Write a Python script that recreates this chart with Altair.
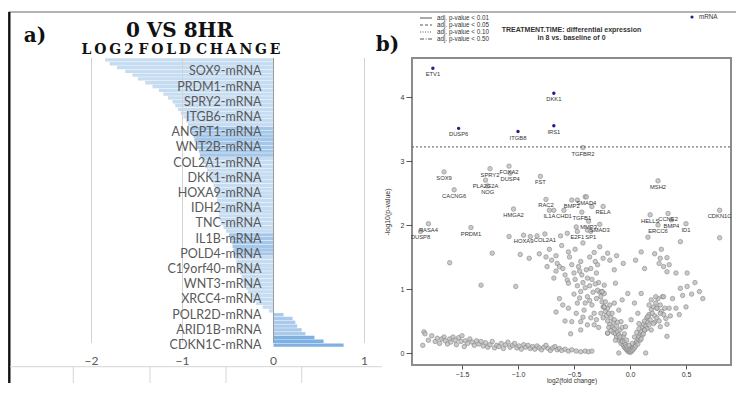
import altair as alt
import pandas as pd

# ---------------- Panel a) data ----------------
bar_values = [-1.85, -1.80, -1.72, -1.63, -1.55, -1.49, -1.41, -1.33, -1.26, -1.21,
              -1.16, -1.11, -1.08, -1.05, -1.02, -0.99, -0.96, -0.94, -0.92, -0.90,
              -0.88, -0.87, -0.85, -0.84, -0.82, -0.81, -0.79, -0.77, -0.75, -0.73,
              -0.71, -0.70, -0.68, -0.66, -0.64, -0.63, -0.62, -0.62, -0.61, -0.61,
              -0.60, -0.60, -0.59, -0.58, -0.55, -0.52, -0.49, -0.47, -0.46, -0.45,
              -0.44, -0.44, -0.42, -0.41, -0.40, -0.39, -0.37, -0.35, -0.34, -0.33,
              -0.30, -0.28, -0.25, -0.23, -0.19, -0.12, -0.05, 0.11, 0.21, 0.24,
              0.26, 0.31, 0.35, 0.45, 0.55, 0.77]
bar_labels = ["SOX9-mRNA", "PRDM1-mRNA", "SPRY2-mRNA", "ITGB6-mRNA", "ANGPT1-mRNA",
              "WNT2B-mRNA", "COL2A1-mRNA", "DKK1-mRNA", "HOXA9-mRNA", "IDH2-mRNA",
              "TNC-mRNA", "IL1B-mRNA", "POLD4-mRNA", "C19orf40-mRNA", "WNT3-mRNA",
              "XRCC4-mRNA", "POLR2D-mRNA", "ARID1B-mRNA", "CDKN1C-mRNA"]
x_ticks_a = [-2, -1, 0, 1]

# ---------------- Panel b) data ----------------
sig_genes = ["ETV1", "DKK1", "DUSP6", "ITGB8", "IRS1"]
sig_lfc = [-1.76, -0.68, -1.53, -1.00, -0.68]
sig_logp = [4.45, 4.06, 3.51, 3.46, 3.55]

lab_genes = ["TGFBR2", "SOX9", "SPRY2", "FOXA2", "DUSP4", "FST", "PLA2G2A", "NOG",
             "CACNG6", "MSH2", "RAC2", "BMP2", "SMAD4", "RELA", "HMGA2", "IL1A",
             "CHD1", "TGFB1", "MMP3", "SMAD3", "HELLS", "CCNE2", "BMP4", "ERCC6",
             "ID1", "CDKN1C", "RASA4", "DUSP8", "PRDM1", "COL2A1", "HOXA9", "E2F1", "SP1"]
lab_lfc = [-0.42, -1.66, -1.25, -1.08, -1.07, -0.80, -1.29, -1.27,
           -1.57, 0.25, -0.75, -0.52, -0.39, -0.24, -1.04, -0.72,
           -0.59, -0.43, -0.37, -0.27, 0.18, 0.34, 0.37, 0.25,
           0.50, 0.80, -1.80, -1.87, -1.42, -0.76, -0.95, -0.47, -0.35]
lab_logp = [3.21, 2.83, 2.88, 2.92, 2.81, 2.76, 2.70, 2.61,
            2.55, 2.69, 2.40, 2.39, 2.44, 2.29, 2.25, 2.23,
            2.23, 2.20, 2.06, 2.01, 2.16, 2.18, 2.08, 2.00,
            2.02, 2.23, 2.02, 1.90, 1.96, 1.86, 1.84, 1.90, 1.90]

bg_points = [
    # long low tail on the left
    (-1.84, 0.33), (-1.83, 0.30), (-1.85, 0.12), (-1.80, 0.20), (-1.77, 0.27), (-1.74, 0.18),
    (-1.72, 0.23), (-1.70, 0.15), (-1.68, 0.22), (-1.66, 0.25), (-1.65, 0.19), (-1.63, 0.14),
    (-1.61, 0.22), (-1.60, 0.17), (-1.58, 0.25), (-1.56, 0.20), (-1.55, 0.13), (-1.53, 0.24),
    (-1.51, 0.18), (-1.50, 0.27), (-1.48, 0.10), (-1.47, 0.19), (-1.45, 0.15), (-1.43, 0.22),
    (-1.41, 0.17), (-1.39, 0.12), (-1.37, 0.19), (-1.35, 0.14), (-1.33, 0.18), (-1.31, 0.11),
    (-1.29, 0.16), (-1.27, 0.09), (-1.25, 0.13), (-1.23, 0.18), (-1.21, 0.08), (-1.19, 0.12),
    (-1.17, 0.10), (-1.15, 0.15), (-1.13, 0.07), (-1.11, 0.13), (-1.09, 0.17), (-1.07, 0.09),
    (-1.05, 0.12), (-1.03, 0.15), (-1.01, 0.08), (-0.99, 0.11), (-0.97, 0.06), (-0.95, 0.13),
    (-0.93, 0.09), (-0.91, 0.12), (-0.89, 0.07), (-0.87, 0.10), (-0.85, 0.06), (-0.83, 0.11),
    (-0.81, 0.08), (-0.79, 0.05), (-0.77, 0.09), (-0.75, 0.12), (-0.73, 0.07), (-0.71, 0.04),
    (-0.69, 0.08), (-0.67, 0.10), (-0.65, 0.05), (-0.63, 0.07), (-0.61, 0.04), (-0.58, 0.06),
    (-0.55, 0.03), (-0.52, 0.05), (-0.48, 0.03), (-0.44, 0.02), (-0.40, 0.03), (-0.37, 0.02),
    (-0.34, 0.03),
    # volcano "V" around zero
    (-0.30, 1.25), (-0.28, 1.10), (-0.27, 0.95), (-0.26, 0.88), (-0.25, 0.80), (-0.24, 0.72),
    (-0.23, 0.93), (-0.22, 0.65), (-0.21, 0.58), (-0.20, 0.70), (-0.20, 0.50), (-0.19, 0.62),
    (-0.18, 0.45), (-0.17, 0.55), (-0.16, 0.40), (-0.15, 0.48), (-0.15, 0.32), (-0.14, 0.38),
    (-0.13, 0.30), (-0.12, 0.42), (-0.12, 0.25), (-0.11, 0.33), (-0.10, 0.20), (-0.10, 0.28),
    (-0.09, 0.36), (-0.08, 0.15), (-0.08, 0.22), (-0.07, 0.18), (-0.06, 0.12), (-0.06, 0.26),
    (-0.05, 0.09), (-0.05, 0.17), (-0.04, 0.07), (-0.04, 0.13), (-0.03, 0.05), (-0.03, 0.10),
    (-0.02, 0.03), (-0.02, 0.08), (-0.01, 0.02), (-0.01, 0.05), (0.00, 0.01), (0.00, 0.04),
    (0.01, 0.02), (0.01, 0.06), (0.02, 0.04), (0.02, 0.09), (0.03, 0.06), (0.03, 0.12),
    (0.04, 0.08), (0.05, 0.15), (0.05, 0.11), (0.06, 0.18), (0.07, 0.14), (0.07, 0.22),
    (0.08, 0.26), (0.09, 0.20), (0.09, 0.30), (0.10, 0.34), (0.11, 0.28), (0.11, 0.40),
    (0.12, 0.45), (0.13, 0.36), (0.13, 0.50), (0.14, 0.42), (0.15, 0.55), (0.16, 0.48),
    (0.17, 0.60), (0.18, 0.52), (0.19, 0.68), (0.20, 0.62), (0.21, 0.72), (0.22, 0.58),
    (0.23, 0.78), (0.24, 0.70), (0.25, 0.85), (0.27, 0.75), (0.29, 0.88), (0.31, 0.70),
    (-0.10, 0.00), (0.14, 0.00), (-0.20, 0.31), (-0.23, 0.72), (-0.25, 0.96),
    (-0.26, 0.62), (-0.24, 0.55), (-0.22, 0.80), (-0.19, 0.40), (-0.18, 0.75), (-0.17, 0.35),
    (-0.16, 0.62), (-0.14, 0.52), (-0.13, 0.20), (-0.11, 0.48), (-0.09, 0.25), (-0.07, 0.40),
    (-0.05, 0.30), (-0.03, 0.20), (-0.01, 0.12), (0.02, 0.15), (0.04, 0.25), (0.06, 0.32),
    (0.08, 0.38), (0.10, 0.22), (0.12, 0.30), (0.15, 0.38), (0.17, 0.44), (0.19, 0.36),
    (0.22, 0.48), (0.24, 0.55), (0.26, 0.50), (0.28, 0.65), (0.30, 0.60), (0.33, 0.45),
    (0.36, 0.58), (0.38, 0.85), (0.44, 0.60), (0.47, 0.90), (0.55, 0.92), (0.58, 1.10),
    # scattered between -0.75 and 0
    (-0.74, 1.35), (-0.65, 1.40), (-0.63, 1.35), (-0.68, 1.17), (-0.56, 1.14), (-0.55, 1.09),
    (-0.50, 1.25), (-0.46, 1.35), (-0.43, 1.22), (-0.38, 1.17), (-0.35, 1.32), (-0.29, 1.38),
    (-0.14, 1.30), (-0.23, 1.06), (-0.13, 1.09), (-0.63, 0.85), (-0.66, 0.64), (-0.44, 0.96),
    (-0.38, 0.88), (-0.47, 0.78), (-0.41, 0.67), (-0.34, 0.75), (-0.32, 0.62), (-0.52, 0.49),
    (-0.44, 0.49), (-0.38, 0.44), (-0.44, 0.36), (-0.32, 0.44), (-0.20, 0.31), (-0.25, 0.96),
    (-0.23, 0.72), (-0.58, 0.50), (-0.53, 0.30),
    (-0.70, 1.45), (-0.66, 1.28), (-0.60, 1.32), (-0.58, 1.22), (-0.52, 1.38), (-0.49, 1.15),
    (-0.47, 1.05), (-0.45, 1.28), (-0.42, 1.10), (-0.40, 1.02), (-0.39, 1.30), (-0.36, 1.05),
    (-0.34, 1.15), (-0.33, 0.95), (-0.31, 1.08), (-0.30, 0.85), (-0.29, 0.98), (-0.36, 0.82),
    (-0.40, 0.78), (-0.45, 0.86), (-0.50, 0.92), (-0.55, 0.70), (-0.60, 0.75), (-0.48, 0.62),
    (-0.42, 0.56), (-0.35, 0.55), (-0.30, 0.52), (-0.28, 0.40),
    # right of zero
    (0.19, 0.83), (0.17, 0.75), (0.23, 0.88), (0.24, 0.70), (0.27, 0.62), (0.16, 0.57),
    (0.21, 0.46), (0.27, 0.41), (0.32, 0.54), (0.33, 0.26), (0.13, 0.36), (0.08, 0.46),
    (0.07, 0.62), (0.04, 0.78), (0.10, 0.93), (-0.02, 0.93), (-0.07, 0.83), (-0.10, 0.67),
    (-0.14, 0.78), (0.01, 0.52), (-0.04, 0.41), (-0.08, 0.49), (0.45, 1.01), (0.51, 1.04),
    (0.62, 0.96), (0.65, 0.85), (0.50, 0.72), (0.41, 0.70), (0.35, 0.70), (0.30, 0.88),
    (0.51, 1.25), (0.41, 1.25), (0.26, 1.40), (0.30, 1.35), (0.35, 1.38), (0.33, 1.27),
    (0.13, 1.32),
    # upper scattered band (1.4 - 2.0)
    (-1.61, 1.41), (-1.33, 1.06), (-1.02, 1.04), (-1.08, 1.82), (-1.23, 1.56), (-0.98, 1.54),
    (-0.90, 1.48), (-0.81, 1.55), (-0.75, 1.50), (-0.55, 1.58), (-0.54, 1.50), (-0.44, 1.43),
    (-0.32, 1.57), (-0.31, 1.43), (-0.20, 1.56), (0.28, 1.62), (0.27, 1.48), (0.33, 1.49),
    (0.16, 1.81), (0.45, 1.74), (0.80, 1.80), (-0.62, 1.83), (-0.56, 1.87), (-0.89, 1.82),
    (-0.83, 1.83), (-0.48, 1.97), (-0.38, 1.92), (-0.47, 2.39), (-0.40, 2.44), (-0.68, 2.23),
    (-0.34, 2.29), (0.22, 1.55),
    (-0.72, 1.62), (-0.66, 1.52), (-0.61, 1.68), (-0.49, 1.62), (-0.42, 1.72), (-0.36, 1.50),
    (-0.27, 1.66), (-0.24, 1.48), (-0.18, 1.45), (-0.12, 1.52), (-0.06, 1.40), (0.05, 1.45),
    (0.10, 1.58),
]

p_threshold = 3.22
x_ticks_b = [-1.5, -1.0, -0.5, 0.0, 0.5]
y_ticks_b = [0, 1, 2, 3, 4]
legend_labels = ["adj. p-value < 0.01", "adj. p-value < 0.05",
                 "adj. p-value < 0.10", "adj. p-value < 0.50"]

# ---------------- helpers ----------------
one = pd.DataFrame({"k": [0]})


def txt(s, x, y, **kw):
    return alt.Chart(one).mark_text(text=s, **kw).encode(x=alt.value(x), y=alt.value(y))


def rule(x, x2, y, y2, **kw):
    return alt.Chart(one).mark_rule(**kw).encode(
        x=alt.value(x), x2=alt.value(x2), y=alt.value(y), y2=alt.value(y2))


# ---------------- Panel a) (origin = page (10, 58)) ----------------
W1, H1 = 360, 289
N = len(bar_values)
xs1 = alt.Scale(domain=[-2.8956, 1.0604], nice=False, zero=False)
ys1 = alt.Scale(domain=[0, N], reverse=True, nice=False, zero=False)

bars_df = pd.DataFrame({"idx": list(range(N)), "lfc": bar_values})
bars = alt.Chart(bars_df).transform_calculate(
    y0="datum.idx + 0.06", y1="datum.idx + 0.94", zero="0",
    shade="datum.idx >= 73 ? 'p2' : datum.idx >= 67 ? 'p1' : "
          "((datum.idx >= 18 && datum.idx <= 25) || (datum.idx >= 46 && datum.idx <= 51)) ? 'd' : 'l'"
).mark_rect().encode(
    x=alt.X("lfc:Q", scale=xs1, axis=None),
    x2="zero:Q",
    y=alt.Y("y0:Q", scale=ys1, axis=None),
    y2="y1:Q",
    color=alt.Color("shade:N", legend=None,
                    scale=alt.Scale(domain=["l", "d", "p1", "p2"],
                                    range=["#c5dcf1", "#a3c6e9", "#a9caec", "#7eb0e2"])),
)

grid_df = pd.DataFrame({"v": x_ticks_a})
grid = alt.Chart(grid_df).mark_rule(strokeWidth=1).encode(
    x=alt.X("v:Q", scale=xs1, axis=None),
    y=alt.value(0), y2=alt.value(285),
    color=alt.condition("datum.v == 0", alt.value("#9a9a9a"), alt.value("#d3d3d3")),
)
tick_txt_a = alt.Chart(grid_df).mark_text(
    font="Lato", fontSize=12, color="#595959", baseline="middle"
).encode(x=alt.X("v:Q", scale=xs1, axis=None), y=alt.value(303),
         text=alt.Text("v:Q", format="d"))

lab_df = pd.DataFrame({"name": bar_labels,
                       "pos": [3.5 + 4 * k for k in range(len(bar_labels))],
                       "zero": [0] * len(bar_labels)})
bar_text = alt.Chart(lab_df).mark_text(
    align="right", baseline="middle", dx=-12, font="Lato", fontSize=12.5, color="#595959"
).encode(x=alt.X("zero:Q", scale=xs1, axis=None),
         y=alt.Y("pos:Q", scale=ys1, axis=None), text="name:N")

# panel b decorations expressed in panel a pixel coordinates (panel b origin = +402, 0)
BX = 402
leg_df = pd.DataFrame({"lab": legend_labels, "py": [-40, -33, -26, -19]})
leg_dash = [[1, 0], [3, 2], [1, 1.5], [4, 1.5, 1, 1.5]]
leg_lines = [
    alt.Chart(leg_df.iloc[[i]]).mark_rule(color="#444444", strokeWidth=0.9, strokeDash=leg_dash[i])
    .encode(x=alt.value(BX + 8), x2=alt.value(BX + 20), y=alt.Y("py:Q", scale=None))
    for i in range(4)
]
leg_text = alt.Chart(leg_df).mark_text(
    align="left", baseline="middle", font="Liberation Sans", fontSize=6.3, color="#333333"
).encode(x=alt.value(BX + 25), y=alt.Y("py:Q", scale=None), text="lab:N")

deco = [
    alt.Chart(one).mark_rect(color="white").encode(
        x=alt.value(-2), x2=alt.value(-1), y=alt.value(-50), y2=alt.value(-49)),
    rule(-1.4, 726, -46, -46, color="#6b6b6b", strokeWidth=1.2),
    rule(-0.7, -0.7, -46, 325, color="#111111", strokeWidth=2.4),
    rule(0, 372, 308.7, 308.7, color="#d6d6d6", strokeWidth=1),
    rule(63.3, 63.3, 308.7, 325, color="#d6d6d6", strokeWidth=1),
    rule(140, 140, 308.7, 325, color="#d6d6d6", strokeWidth=1),
    rule(216, 216, 308.7, 325, color="#d6d6d6", strokeWidth=1),
    rule(291.7, 291.7, 308.7, 325, color="#d6d6d6", strokeWidth=1),
    txt("0 VS 8HR", 169.5, -27, font="DejaVu Serif", fontSize=20, fontWeight="bold",
        color="#111111", baseline="middle"),
    txt("L\u2009O\u2009G\u20092  F\u2009O\u2009L\u2009D  C\u2009H\u2009A\u2009N\u2009G\u2009E",
        171, -8.5, font="DejaVu Serif", fontSize=14, fontWeight="bold",
        color="#111111", baseline="middle"),
    txt("a)", 25, -22, font="DejaVu Serif", fontSize=20, fontWeight="bold",
        color="#111111", baseline="middle"),
    txt("TREATMENT.TIME: differential expression", BX + 159.5, -28, font="Liberation Sans",
        fontSize=7, fontWeight="bold", color="#333333", baseline="middle"),
    txt("in 8 vs. baseline of 0", BX + 159.5, -20, font="Liberation Sans",
        fontSize=7, fontWeight="bold", color="#333333", baseline="middle"),
    alt.Chart(one).mark_circle(size=10, color="#1f1f8f", opacity=1).encode(
        x=alt.value(BX + 280), y=alt.value(-41)),
    txt("mRNA", BX + 287, -41, font="Liberation Sans", fontSize=6.3, color="#333333",
        align="left", baseline="middle"),
    txt("b)", BX - 24.5, -13, font="DejaVu Serif", fontSize=20, fontWeight="bold",
        color="#111111", baseline="middle"),
]

panel_a = alt.layer(bars, grid, bar_text, tick_txt_a, *leg_lines, leg_text,
                    *deco).properties(width=W1, height=H1)

# ---------------- Panel b) (origin = page (412, 58)) ----------------
W2, H2 = 319, 307
xs2 = alt.Scale(domain=[-1.9464, 0.9018], nice=False, zero=False)
ys2 = alt.Scale(domain=[-0.1875, 4.6094], nice=False, zero=False)
x_axis_b = alt.Axis(values=x_ticks_b, format=".1f", grid=False, domain=False,
                    tickSize=4, tickColor="#555555", labelFont="Liberation Sans",
                    labelFontSize=7, labelColor="#333333", labelPadding=1,
                    title="log2(fold change)", titleFont="Liberation Sans",
                    titleFontSize=6.5, titleFontWeight="normal", titleColor="#333333",
                    titlePadding=0)
y_axis_b = alt.Axis(values=y_ticks_b, grid=False, domain=False, tickSize=6,
                    tickColor="#555555", labelFont="Liberation Sans", labelFontSize=7,
                    labelColor="#333333", labelPadding=2,
                    title="-log10(p-value)", titleFont="Liberation Sans",
                    titleFontSize=7, titleFontWeight="normal", titleColor="#333333",
                    titlePadding=10)


def xb():
    return alt.X("lfc:Q", scale=xs2, axis=x_axis_b)


def yb():
    return alt.Y("logp:Q", scale=ys2, axis=y_axis_b)


bg_df = pd.DataFrame(bg_points, columns=["lfc", "logp"])
bg = alt.Chart(bg_df).mark_circle(
    size=20, color="#c2c2c2", stroke="#7f7f7f", strokeWidth=0.7, opacity=0.85
).encode(x=xb(), y=yb())

lab_pts_df = pd.DataFrame({"gene": lab_genes, "lfc": lab_lfc, "logp": lab_logp})
lab_pts = alt.Chart(lab_pts_df).mark_circle(
    size=20, color="#c2c2c2", stroke="#7f7f7f", strokeWidth=0.7, opacity=0.85
).encode(x=xb(), y=yb())
lab_txt = alt.Chart(lab_pts_df).mark_text(
    font="Liberation Sans", fontSize=5.8, color="#333333", dy=6, baseline="middle"
).encode(x=xb(), y=yb(), text="gene:N")

sig_df = pd.DataFrame({"gene": sig_genes, "lfc": sig_lfc, "logp": sig_logp})
sig_pts = alt.Chart(sig_df).mark_circle(size=12, color="#1f1f8f", opacity=1).encode(
    x=xb(), y=yb())
sig_txt = alt.Chart(sig_df).mark_text(
    font="Liberation Sans", fontSize=5.8, color="#333333", dy=6, baseline="middle"
).encode(x=xb(), y=yb(), text="gene:N")

thr = alt.Chart(pd.DataFrame({"logp": [p_threshold]})).mark_rule(
    color="#555555", strokeDash=[2, 2], strokeWidth=1
).encode(y=yb(), x=alt.value(0), x2=alt.value(W2))

panel_b = alt.layer(bg, lab_pts, thr, lab_txt, sig_pts, sig_txt).properties(
    width=W2, height=H2, view=alt.ViewBackground(stroke="#8c8c8c", strokeWidth=2))

chart = alt.hconcat(panel_a, panel_b, spacing=42, bounds="flush", padding=0,
                    background="white").configure_view(strokeWidth=0)

chart.save("out.html", embed_options={"renderer": "svg", "actions": False})
